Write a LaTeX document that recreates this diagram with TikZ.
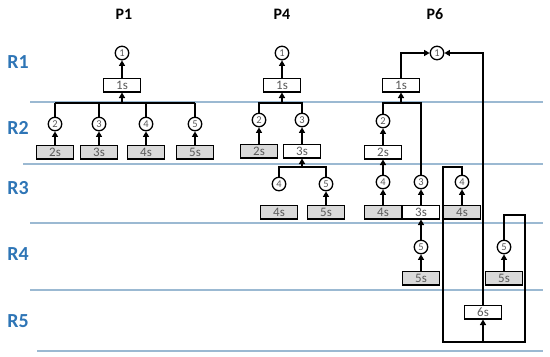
\documentclass[tikz,border=0pt]{standalone}
\usepackage{fontspec}
\setmainfont{Carlito}
\usetikzlibrary{arrows.meta}
\definecolor{rowblue}{RGB}{46,117,182}
\definecolor{rowline}{RGB}{155,185,210}
\definecolor{boxgray}{RGB}{217,217,217}
\definecolor{txtgray}{RGB}{90,90,90}
\tikzset{
  state/.style={circle,draw,line width=1.3bp,minimum size=13.5bp,inner sep=0pt,fill=white,
    text=txtgray,font=\fontsize{10.5}{10.5}\selectfont},
  task/.style={draw,line width=1.5bp,minimum width=37bp,minimum height=13.5bp,inner sep=0pt,
    fill=white,text=txtgray,font=\fontsize{13}{13}\selectfont},
  done/.style={task,fill=boxgray},
  arr/.style={-{Triangle[length=5.5bp,width=6bp]}},
  rowlbl/.style={text=rowblue,font=\bfseries\fontsize{20}{20}\selectfont},
  collbl/.style={font=\bfseries\fontsize{16}{16}\selectfont}
}
\begin{document}
\begin{tikzpicture}[x=1bp,y=-1bp,line width=1.5bp]
\useasboundingbox (0,0) rectangle (550,356);
% rows
\foreach \y/\xs in {102/30,164/23,223/30,290/30,351/37}
  \draw[rowline,line width=1.2bp] (\xs,\y) -- (543,\y);
\foreach \r/\y in {1/62,2/128,3/188,4/254,5/321}
  \node[rowlbl] (r\r) at (18,\y) {R\r};
\node[collbl] (p1) at (124,14) {P1};
\node[collbl] (p4) at (282,14) {P4};
\node[collbl] (p6) at (435,14) {P6};

% P1
\node[state] (p1c1) at (122,53) {1};
\node[task] (p1b1) at (122,85) {1s};
\coordinate (p1bus) at (122,103);
\foreach \i/\x in {2/55,3/99,4/146,5/195}{
  \node[state] (p1c\i) at (\x,124) {\i};
  \node[done] (p1b\i) at (\x,152) {\i s};
  \draw[arr] (p1b\i) -- (p1c\i);
  \draw (p1c\i.north) -- (p1c\i.north |- p1bus);
}
\draw (p1c2.north |- p1bus) -- (p1c5.north |- p1bus);
\draw[arr] (p1bus) -- (p1b1);
\draw[arr] (p1b1) -- (p1c1);

% P4
\node[state] (p4c1) at (282,53) {1};
\node[task] (p4b1) at (282,85) {1s};
\coordinate (p4bus) at (282,103);
\node[state] (p4c2) at (259,120) {2};
\node[state] (p4c3) at (302,120) {3};
\node[done] (p4b2) at (259,151) {2s};
\node[task] (p4b3) at (302,151) {3s};
\coordinate (p4bus3) at (302,167);
\node[state] (p4c4) at (279,184) {4};
\node[state] (p4c5) at (326,184) {5};
\node[done] (p4b4) at (279,212) {4s};
\node[done] (p4b5) at (326,212) {5s};
\draw[arr] (p4b1) -- (p4c1);
\draw[arr] (p4bus) -- (p4b1);
\draw (p4c2.north) |- (p4bus) -| (p4c3.north);
\draw[arr] (p4b2) -- (p4c2);
\draw[arr] (p4b3) -- (p4c3);
\draw[arr] (p4bus3) -- (p4b3);
\draw (p4c4.north) |- (p4bus3) -| (p4c5.north);
\draw[arr] (p4b5) -- (p4c5);

% P6
\node[state] (p6c1) at (437,53) {1};
\node[task] (p6b1) at (401,85) {1s};
\coordinate (p6bus) at (401,103);
\node[state] (p6c2) at (383,121) {2};
\node[task] (p6b2) at (383,152) {2s};
\node[state] (p6c4a) at (383,182) {4};
\node[done] (p6b4a) at (383,212) {4s};
\node[state] (p6c3) at (421,182) {3};
\node[task] (p6b3) at (421,212) {3s};
\node[state] (p6c5a) at (421,247) {5};
\node[done] (p6b5a) at (421,278) {5s};
\node[state] (p6c4b) at (462,182) {4};
\node[done] (p6b4b) at (462,212) {4s};
\node[state] (p6c5b) at (504,247) {5};
\node[done] (p6b5b) at (504,278) {5s};
\node[task] (p6b6) at (483,312) {6s};
\coordinate (p6lt) at (443,167);
\coordinate (p6lb) at (443,342);
\coordinate (p6rt) at (525,215);
\coordinate (p6rb) at (525,342);
\draw[arr] (p6b1.north) |- (p6c1.west);
\draw[arr] (p6b6.north) |- (p6c1.east);
\draw[arr] (p6bus) -- (p6b1);
\draw (p6c2.north) |- (p6bus) -| (p6c3.north);
\draw[arr] (p6b2) -- (p6c2);
\draw[arr] (p6c4a) -- (p6b2);
\draw[arr] (p6b4a) -- (p6c4a);
\draw[arr] (p6b3) -- (p6c3);
\draw[arr] (p6c5a) -- (p6b3);
\draw[arr] (p6b5a) -- (p6c5a);
\draw[arr] (p6b4b) -- (p6c4b);
\draw[arr] (p6b5b) -- (p6c5b);
\draw (p6c5b.north) |- (p6rt) -- (p6rb) -- (p6lb);
\draw[arr] (p6c4b.north) |- (p6lt) -- (p6lb) -| (p6b6.south);
\end{tikzpicture}
\end{document}
